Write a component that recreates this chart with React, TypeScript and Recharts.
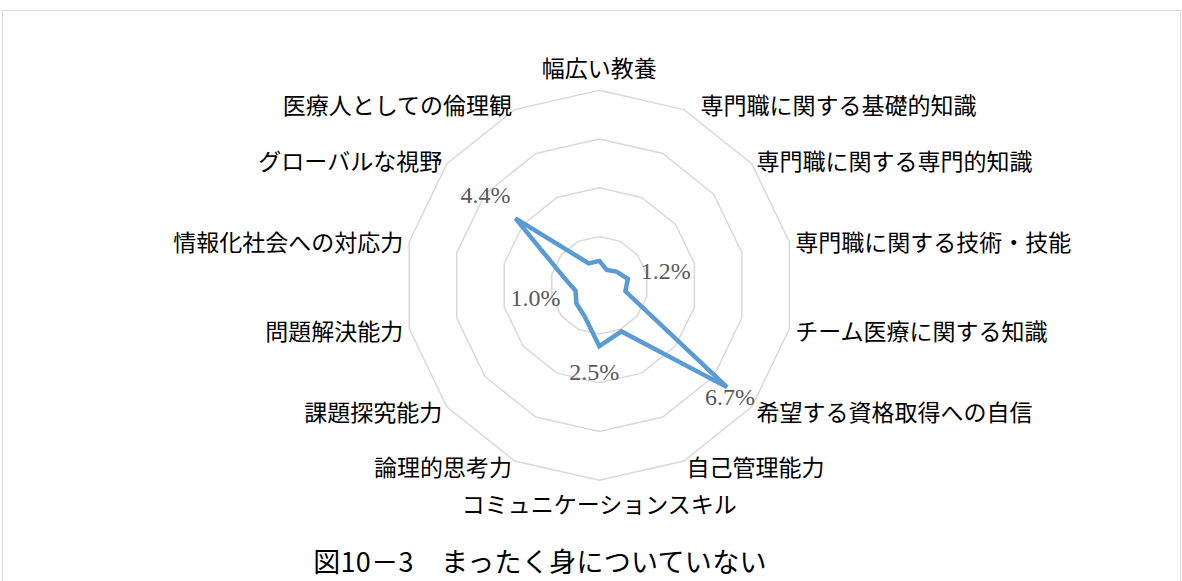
import React from "react";
import {
  RadarChart,
  Radar,
  PolarGrid,
  PolarAngleAxis,
  PolarRadiusAxis,
} from "recharts";

const categories = [
  "幅広い教養",
  "専門職に関する基礎的知識",
  "専門職に関する専門的知識",
  "専門職に関する技術・技能",
  "チーム医療に関する知識",
  "希望する資格取得への自信",
  "自己管理能力",
  "コミュニケーションスキル",
  "論理的思考力",
  "課題探究能力",
  "問題解決能力",
  "情報化社会への対応力",
  "グローバルな視野",
  "医療人としての倫理観",
];

const values = [1.0, 0.7, 0.9, 1.2, 1.1, 6.7, 2.1, 2.5, 1.4, 1.2, 1.0, 1.5, 4.4, 1.0];

// only these points carry a data label in the original
const labeledIndexes = [3, 5, 7, 10, 12];

const radiusTicks = [0, 2, 4, 6, 8];

const title = "図10－3　まったく身についていない";

const data = categories.map((name, i) => ({ name, value: values[i] }));

const CX = 599.3;
const CY = 285.3;
const R = 195;

// label placement relative to the point (dx, dy of the text centre)
const labelOffsets: Record<number, [number, number]> = {
  3: [38, -8],
  5: [3, 10],
  7: [-5, 26],
  10: [-40, 7],
  12: [-30, -23],
};

// small horizontal nudges for some category labels
const tickNudge: Record<number, number> = { 1: 14 };

const jpFont = "'Noto Sans CJK JP', 'Noto Sans', sans-serif";

const renderTick = (props: any) => {
  const { x, y, payload, index } = props;
  const dx = x - CX;
  const dy = y - CY;
  const len = Math.hypot(dx, dy) || 1;
  const ux = dx / len;
  const uy = dy / len;
  let anchor: "start" | "middle" | "end" = "middle";
  let r = R + 23;
  if (ux > 0.01) {
    anchor = "start";
    r = R + 6;
  } else if (ux < -0.01) {
    anchor = "end";
    r = R + 6;
  }
  return (
    <text
      x={CX + ux * r + (tickNudge[index] || 0)}
      y={CY + uy * r}
      textAnchor={anchor}
      dominantBaseline="central"
      fontFamily={jpFont}
      fontSize={23}
      fill="#000"
    >
      {payload.value}
    </text>
  );
};

const renderLabel = (props: any) => {
  const { x, y, value, index } = props;
  if (!labeledIndexes.includes(index)) return null;
  const [ox, oy] = labelOffsets[index] || [0, 0];
  return (
    <text
      x={x + ox}
      y={y + oy}
      textAnchor="middle"
      dominantBaseline="central"
      fontFamily="'Liberation Serif', serif"
      fontSize={24}
      fill="#595959"
    >
      {Number(value).toFixed(1)}%
    </text>
  );
};

export default function App() {
  return (
    <div
      style={{
        position: "absolute",
        left: 0,
        top: 0,
        width: 1182,
        height: 581,
        overflow: "hidden",
        background: "#fff",
      }}
    >
      <div
        style={{
          position: "absolute",
          left: 2,
          top: 10,
          width: 1177,
          height: 600,
          border: "1px solid #d9d9d9",
        }}
      />
      <div style={{ position: "absolute", left: 0, top: 0 }}>
        <RadarChart
          width={1182}
          height={581}
          data={data}
          cx={CX}
          cy={CY}
          outerRadius={R}
          margin={{ top: 0, right: 0, bottom: 0, left: 0 }}
        >
          <PolarGrid gridType="polygon" radialLines={false} stroke="#d9d9d9" strokeWidth={1.5} />
          <PolarAngleAxis dataKey="name" tick={renderTick} tickLine={false} axisLine={false} />
          <PolarRadiusAxis
            domain={[0, 8]}
            ticks={radiusTicks}
            tick={false}
            axisLine={false}
          />
          <Radar
            dataKey="value"
            stroke="#5B9BD5"
            strokeWidth={4.5}
            strokeLinejoin="miter"
            fill="none"
            fillOpacity={0}
            dot={false}
            label={renderLabel}
            isAnimationActive={false}
          />
        </RadarChart>
      </div>
      <div
        style={{
          position: "absolute",
          left: 0,
          width: 1080,
          top: 544,
          textAlign: "center",
          fontFamily: jpFont,
          fontSize: 27,
          letterSpacing: 0.3,
          lineHeight: "34px",
          color: "#000",
        }}
      >
        {title}
      </div>
    </div>
  );
}
